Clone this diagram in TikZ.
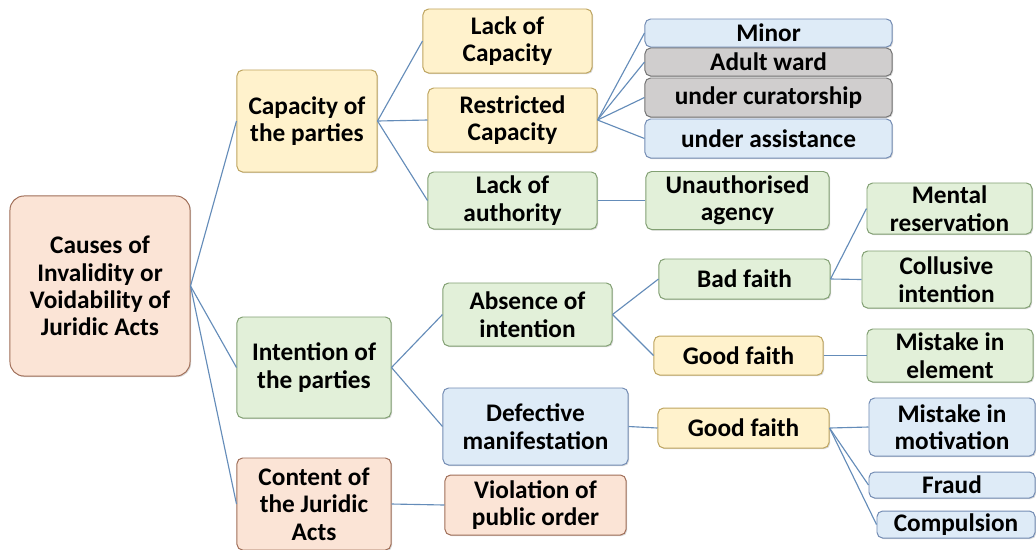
\documentclass[tikz,border=0pt]{standalone}
\usepackage{fontspec}
\setmainfont{Carlito}
\usetikzlibrary{shadows}

\definecolor{peachfill}{RGB}{251,228,214}
\definecolor{peachdraw}{RGB}{160,110,88}
\definecolor{yelfill}{RGB}{255,242,204}
\definecolor{yeldraw}{RGB}{190,165,95}
\definecolor{grnfill}{RGB}{226,240,217}
\definecolor{grndraw}{RGB}{130,160,115}
\definecolor{bluefill}{RGB}{222,235,247}
\definecolor{bluedraw}{RGB}{115,140,180}
\definecolor{grayfill}{RGB}{208,206,206}
\definecolor{graydraw}{RGB}{115,115,115}
\definecolor{linkcol}{RGB}{100,140,185}

\tikzset{
	bx/.style={rectangle,rounded corners=4pt,line width=0.7pt,align=center,inner sep=1pt,
		font=\fontsize{18}{19.5}\selectfont\bfseries,
		drop shadow={shadow xshift=0.8pt,shadow yshift=-0.8pt,opacity=0.3}},
	peach/.style={bx,draw=peachdraw,fill=peachfill},
	yel/.style={bx,draw=yeldraw,fill=yelfill},
	grn/.style={bx,draw=grndraw,fill=grnfill},
	blu/.style={bx,draw=bluedraw,fill=bluefill},
	gry/.style={bx,draw=graydraw,fill=grayfill},
	link/.style={draw=linkcol,line width=0.8pt}
}

\begin{document}
\begin{tikzpicture}[x=0.025cm,y=-0.025cm]

	\useasboundingbox[fill=white] (0,0) rectangle (1036,549);

	\node[peach,rounded corners=10pt,minimum width=4.5cm,minimum height=4.5cm] (root) at (100,286) {Causes of\\Invalidity or\\Voidability of\\Juridic Acts};

	\node[yel,minimum width=3.5cm,minimum height=2.55cm] (cap) at (307,121) {Capacity of\\the parties};
	\node[grn,minimum width=3.85cm,minimum height=2.525cm] (intent) at (314,367.5) {Intention of\\the parties};
	\node[peach,minimum width=3.85cm,minimum height=2.3cm] (content) at (314,504) {Content of\\the Juridic\\Acts};

	\node[yel,minimum width=4.225cm,minimum height=1.6cm] (lackcap) at (507.5,41) {Lack of\\Capacity};
	\node[yel,minimum width=4.225cm,minimum height=1.6cm] (restr) at (512.5,120) {Restricted\\Capacity};
	\node[grn,minimum width=4.225cm,minimum height=1.425cm] (lackauth) at (512.5,200.5) {Lack of\\authority};
	\node[grn,minimum width=4.225cm,minimum height=1.575cm] (absence) at (527.5,314.5) {Absence of\\intention};
	\node[blu,minimum width=4.625cm,minimum height=1.925cm] (defect) at (535.5,426.5) {Defective\\manifestation};
	\node[peach,minimum width=4.525cm,minimum height=1.5cm] (viol) at (535.5,505) {Violation of\\public order};

	\node[blu,minimum width=6.175cm,minimum height=0.7cm] (minor) at (768.5,33) {Minor};
	\node[gry,minimum width=6.175cm,minimum height=0.7cm] (adult) at (768.5,62) {Adult ward};
	\node[gry,minimum width=6.175cm,minimum height=0.975cm] (curat) at (768.5,97.5) {under curatorship};
	\node[blu,minimum width=6.175cm,minimum height=0.975cm] (assist) at (768.5,138.5) {under assistance};
	\node[grn,minimum width=4.575cm,minimum height=1.45cm] (unauth) at (737.5,200.5) {Unauthorised\\agency};
	\node[grn,minimum width=4.275cm,minimum height=1cm] (bad) at (744.5,279) {Bad faith};
	\node[yel,minimum width=4.225cm,minimum height=0.975cm] (goodA) at (738.5,355.5) {Good faith};
	\node[yel,minimum width=4.275cm,minimum height=1cm] (goodB) at (743.5,428) {Good faith};

	\node[grn,minimum width=4.125cm,minimum height=1.275cm] (mental) at (949.5,208.5) {Mental\\reservation};
	\node[grn,minimum width=4.225cm,minimum height=1.425cm] (collus) at (946.5,279.5) {Collusive\\intention};
	\node[grn,minimum width=4.15cm,minimum height=1.325cm] (mistel) at (950,355.5) {Mistake in\\element};
	\node[blu,minimum width=4.15cm,minimum height=1.45cm] (mistmot) at (952,427) {Mistake in\\motivation};
	\node[blu,minimum width=4.15cm,minimum height=0.65cm] (fraud) at (952,485) {Fraud};
	\node[blu,minimum width=3.95cm,minimum height=0.675cm] (compul) at (956,524.5) {Compulsion};

	\begin{scope}[link]
		\draw (root.east) -- (cap.west);
		\draw (root.east) -- (intent.west);
		\draw (root.east) -- (content.west);
		\draw (cap.east) -- (lackcap.west);
		\draw (cap.east) -- (restr.west);
		\draw (cap.east) -- (lackauth.west);
		\draw (restr.east) -- (minor.west);
		\draw (restr.east) -- (adult.west);
		\draw (restr.east) -- (curat.west);
		\draw (restr.east) -- (assist.west);
		\draw (lackauth.east) -- (unauth.west);
		\draw (intent.east) -- (absence.west);
		\draw (intent.east) -- (defect.west);
		\draw (absence.east) -- (bad.west);
		\draw (absence.east) -- (goodA.west);
		\draw (bad.east) -- (mental.west);
		\draw (bad.east) -- (collus.west);
		\draw (goodA.east) -- (mistel.west);
		\draw (defect.east) -- (goodB.west);
		\draw (goodB.east) -- (mistmot.west);
		\draw (goodB.east) -- (fraud.west);
		\draw (goodB.east) -- (compul.west);
		\draw (content.east) -- (viol.west);
	\end{scope}

\end{tikzpicture}
\end{document}
